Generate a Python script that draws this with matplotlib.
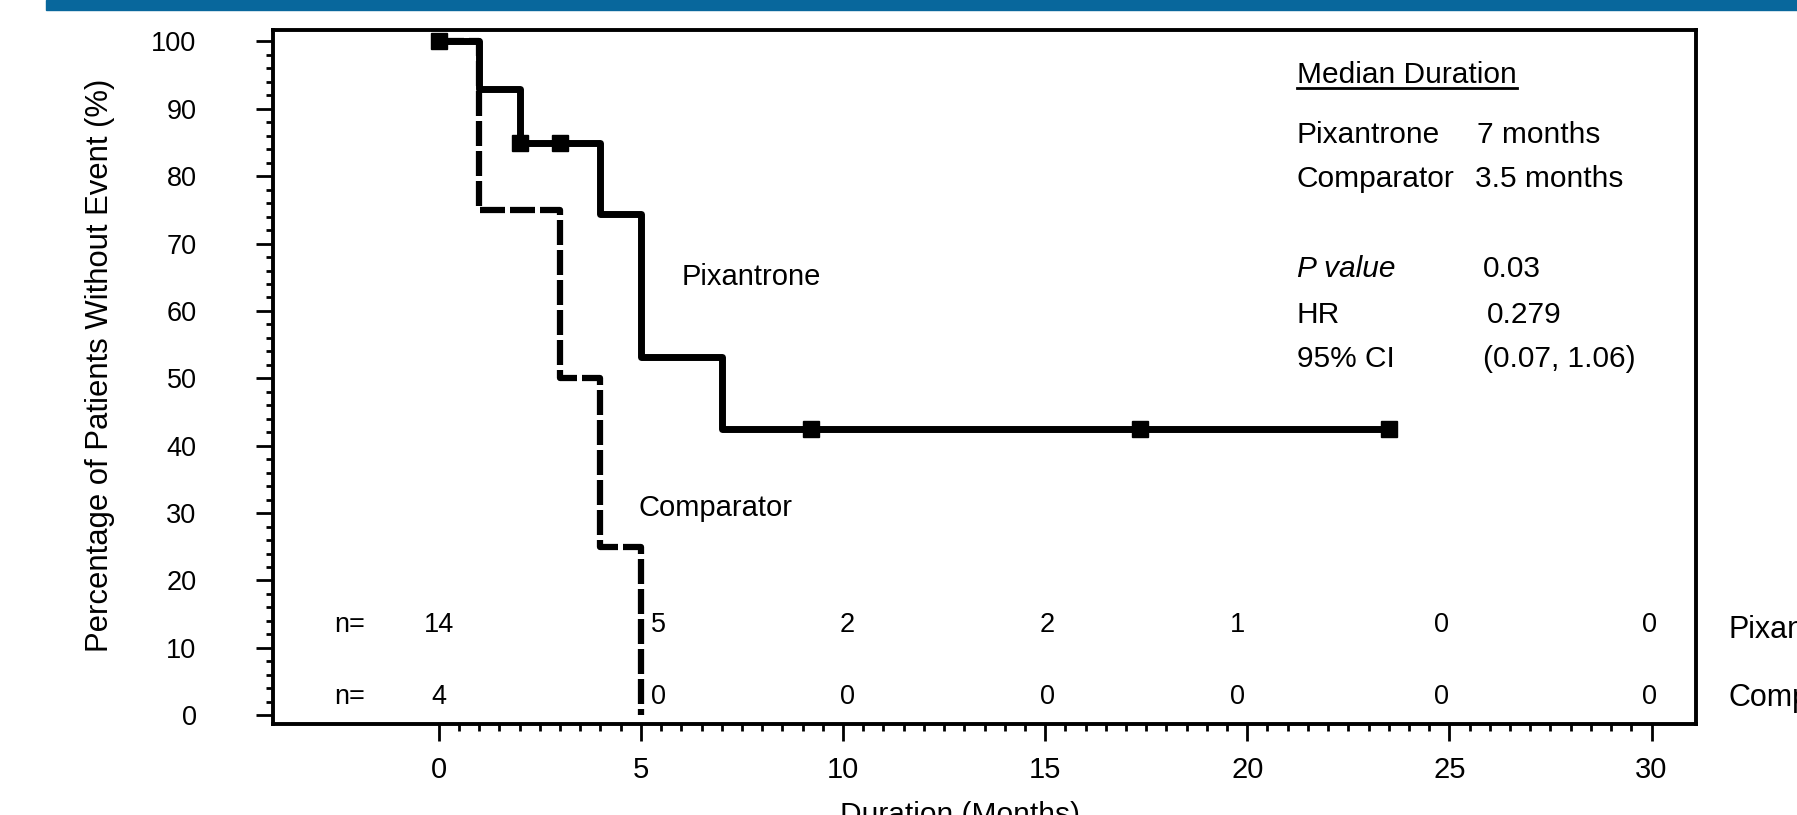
import numpy as np
import matplotlib
matplotlib.use("Agg")
import matplotlib.pyplot as plt
from matplotlib.lines import Line2D
from matplotlib.patches import Rectangle

plt.rcParams['font.family'] = ['Liberation Sans', 'DejaVu Sans']

# Kaplan-Meier steps (months, % without event)
pix_t = [0, 1, 2, 4, 5, 7, 23.5]
pix_s = [100, 92.9, 85.0, 74.4, 53.1, 42.5, 42.5]
pix_cens_t = [0, 2, 3, 9.2, 17.35, 23.5]
pix_cens_s = [100, 85.0, 85.0, 42.5, 42.5, 42.5]

comp_t = [0, 1, 3, 4, 5]
comp_s = [100, 75, 50, 25, 0]

# numbers at risk
risk_x = [0, 5.25, 10.1, 15.05, 19.75, 24.8, 29.95]
risk_pix = ['14', '5', '2', '2', '1', '0', '0']
risk_comp = ['4', '0', '0', '0', '0', '0', '0']

stats_labels = ['Pixantrone', 'Comparator', 'P value', 'HR', '95% CI']
stats_values = ['7 months', '3.5 months', '0.03', '0.279', '(0.07, 1.06)']

W, H = 1797, 815
fig = plt.figure(figsize=(W / 100, H / 100), dpi=100)
ax = fig.add_axes([273 / W, 1 - 724 / H, (1696 - 273) / W, (724 - 30) / H])

# top banner
fig.patches.append(Rectangle((46 / W, 1 - 10 / H), 1, 10 / H, transform=fig.transFigure,
                             color='#08679c', zorder=0))

ax.plot(comp_t, comp_s, drawstyle='steps-post', color='black', lw=4.5,
        dashes=(4, 0.8), solid_capstyle='butt', zorder=2)
ax.plot(pix_t, pix_s, drawstyle='steps-post', color='black', lw=5, zorder=3)
ax.plot(pix_cens_t, pix_cens_s, 's', color='black', ms=11, zorder=4)

ax.set_xlim(-4.1, 31.1)
ax.set_ylim(-1.3, 101.7)
ax.set_xticks(np.arange(0, 31, 5))
ax.set_xticks(np.arange(0, 30.5, 0.5), minor=True)
ax.set_yticks(np.arange(0, 101, 10))
ax.set_yticks(np.arange(0, 101, 2), minor=True)
ax.tick_params(axis='both', which='major', direction='out', length=12, width=2,
               color='black')
ax.tick_params(axis='both', which='minor', direction='out', length=5, width=2)
ax.tick_params(axis='y', which='major', pad=43, labelsize=19.5)
ax.tick_params(axis='x', which='major', pad=11, labelsize=21)
for sp in ax.spines.values():
    sp.set_linewidth(2.8)

# labels on the curves
ax.text(6.0, 65.0, 'Pixantrone', fontsize=21, va='center', ha='left')
ax.text(4.95, 30.7, 'Comparator', fontsize=21, va='center', ha='left')

# median / stats block
title = ax.text(21.23, 93.9, 'Median Duration', fontsize=21.5, va='baseline')
label_y = [85.0, 78.4, 65.1, 58.2, 51.7]
value_x = [25.69, 25.64, 25.83, 25.93, 25.83]
for i, (lab, val) in enumerate(zip(stats_labels, stats_values)):
    style = 'italic' if lab == 'P value' else 'normal'
    ax.text(21.23, label_y[i], lab, fontsize=21.5, va='baseline', style=style)
    ax.text(value_x[i], label_y[i], val, fontsize=21.5, va='baseline')

# numbers at risk
rs = 19.5
ax.text(-2.2, 13.4, 'n=', fontsize=rs, ha='center', va='center')
ax.text(-2.2, 2.7, 'n=', fontsize=rs, ha='center', va='center')
for i, x in enumerate(risk_x):
    ha = 'left' if i == 1 else 'center'
    ax.text(x, 13.4, risk_pix[i], fontsize=rs, ha=ha, va='center')
    ax.text(x, 2.7, risk_comp[i], fontsize=rs, ha=ha, va='center')
ax.text(31.9, 12.6, 'Pixantrone', fontsize=22, va='center', clip_on=False)
ax.text(31.9, 2.5, 'Comparator', fontsize=22, va='center', clip_on=False)

fig.text(100 / W, 1 - 365 / H, 'Percentage of Patients Without Event (%)',
         rotation=90, fontsize=22.3, ha='center', va='center')
fig.text(960 / W, 1 - 801 / H, 'Duration (Months)', fontsize=21.5, ha='center', va='top')

# underline under the heading
fig.canvas.draw()
bb = title.get_window_extent()
fig.add_artist(Line2D([bb.x0 / W, bb.x1 / W], [(H - 88) / H, (H - 88) / H],
                      transform=fig.transFigure, color='black', lw=2))

fig.savefig('out.png', dpi=100)
